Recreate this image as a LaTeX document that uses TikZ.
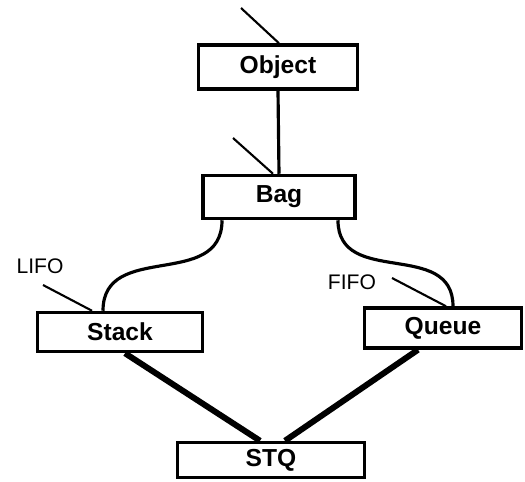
\documentclass[tikz,border=0pt]{standalone}
\usepackage{fontspec}
\setmainfont{Liberation Sans}
\usetikzlibrary{calc}

\tikzset{
    classbox/.style={draw, line width=2pt, rectangle, inner sep=0pt, font=\bfseries\fontsize{14}{16}\selectfont},
    inherit/.style={line width=1.8pt},
    mixin/.style={line width=3.4pt},
    tag/.style={line width=1.2pt},
    note/.style={font=\fontsize{12}{14}\selectfont}
}

\begin{document}
\begin{tikzpicture}[x=0.02cm, y=-0.02cm]
    \useasboundingbox (0,0) rectangle (525,481);
    % classes
    \node[classbox, minimum width=3.18cm, minimum height=0.88cm] (object) at (278,67) {Object};
    \node[classbox, minimum width=3.04cm, minimum height=0.86cm] (bag) at (279,197) {Bag};
    \node[classbox, minimum width=3.30cm, minimum height=0.78cm] (stack) at (120,332) {Stack};
    \node[classbox, minimum width=3.14cm, minimum height=0.80cm] (queue) at (443,328) {Queue};
    \node[classbox, minimum width=3.74cm, minimum height=0.70cm] (stq) at (271,460) {STQ};
    % labels
    \node[note] (lifo) at (40,266) {LIFO};
    \node[note] (fifo) at (352,282) {FIFO};
    % free ends of the tags
    \coordinate (objtag) at (241,8);
    \coordinate (bagtag) at (233,138);
    \coordinate (lifotag) at (43,285);
    \coordinate (fifotag) at (392,278);
    % tags
    \draw[tag] (objtag) -- ([xshift=0.02cm]object.north);
    \draw[tag] (bagtag) -- ([xshift=-0.12cm]bag.north);
    \draw[tag] (lifotag) -- ([xshift=-0.56cm]stack.north);
    \draw[tag] (fifotag) -- ([xshift=0.06cm]queue.north);
    % connectors
    \draw[inherit] (object.south) -- (bag.north);
    \draw[inherit] ([xshift=-1.14cm]bag.south) to[out=-90, in=90, looseness=1.2] ([xshift=-0.34cm]stack.north);
    \draw[inherit] ([xshift=1.18cm]bag.south) to[out=-90, in=90, looseness=1.2] ([xshift=0.2cm]queue.north);
    \draw[mixin] ([xshift=0.1cm]stack.south) -- ([xshift=-0.22cm]stq.north);
    \draw[mixin] ([xshift=-0.5cm]queue.south) -- ([xshift=0.28cm]stq.north);
\end{tikzpicture}
\end{document}
